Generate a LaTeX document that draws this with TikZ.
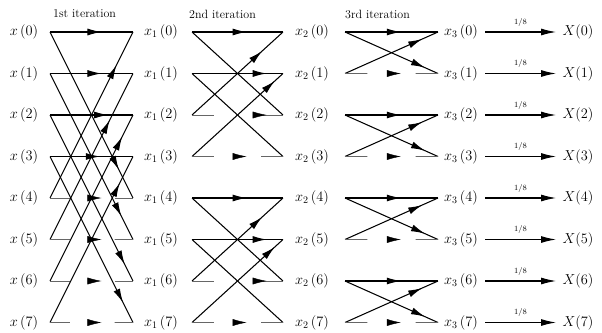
\documentclass[tikz,border=0pt]{standalone}
\usepackage{amsmath}
\usepackage{tikz}
\usetikzlibrary{calc,arrows.meta,decorations.markings}
\tikzset{
  wire/.style={line width=1.05pt},
  faint/.style={line width=0.8pt,black!60},
  tip/.style={postaction={decorate,decoration={markings,mark=at position #1 with {\arrow{Latex[length=14pt,width=7pt]}}}}},
  lbl/.style={font=\Large,inner sep=0pt},
  ttl/.style={font=\large,anchor=west,inner sep=0pt},
  frac/.style={font=\footnotesize,above=5pt,inner sep=0pt}
}

\begin{document}
\begin{tikzpicture}[x=1pt,y=-1pt]
\useasboundingbox (0,0) rectangle (602,332);
% end points and labels of every row
\foreach \k in {0,...,7}{
  \pgfmathsetmacro{\yy}{32+41.5*\k}
  \coordinate (a\k) at (50,\yy);  \coordinate (b\k) at (133,\yy);
  \coordinate (c\k) at (192,\yy); \coordinate (d\k) at (283,\yy);
  \coordinate (e\k) at (345,\yy); \coordinate (f\k) at (438,\yy);
  \coordinate (g\k) at (485,\yy); \coordinate (h\k) at (556,\yy);
  \node[lbl] (x\k) at (24,\yy) {$x\,(\k)$};
  \node[lbl] (xa\k) at (161,\yy) {$x_1\,(\k)$};
  \node[lbl] (xb\k) at (312,\yy) {$x_2\,(\k)$};
  \node[lbl] (xc\k) at (461,\yy) {$x_3\,(\k)$};
  \node[lbl] (X\k) at (578,\yy) {$X(\k)$};
  \draw[wire,-{Latex[length=15pt,width=7pt]}] (g\k) -- (h\k) node[frac,midway] (w\k) {1/8};
}
\node[ttl] (t1) at (53,14) {1st iteration};
\node[ttl] (t2) at (189,14) {2nd iteration};
\node[ttl] (t3) at (345,14) {3rd iteration};
% 1st iteration
\foreach \k/\p/\q/\r in {0/.8/.83/.62,1/.72/.86/.62,2/.87/.9/.7,3/.84/.88/.6}{
  \pgfmathtruncatemacro{\m}{\k+4}
  \draw[wire,tip=\r] (a\k) -- (b\k);
  \draw[wire,tip=\q] (a\k) -- (b\m);
  \draw[wire,tip=\p] (a\m) -- (b\k);
  \draw[faint] (a\m) -- ($(a\m)!.24!(b\m)$) ($(a\m)!.78!(b\m)$) -- (b\m);
  \path[tip=.62] (a\m) -- (b\m);
}
% 2nd iteration
\foreach \u/\l/\p/\q/\r in {0/2/.6/.82/.77,1/3/.82/.6/.91,4/6/.6/.82/.77,5/7/.82/.6/.91}{
  \draw[wire,tip=\p] (c\u) -- (d\u);
  \draw[wire] (c\u) -- (d\l);
  \draw[wire,tip=\r] (c\l) -- (d\u);
  \draw[faint] (c\l) -- ($(c\l)!.24!(d\l)$) ($(c\l)!.76!(d\l)$) -- (d\l);
  \path[tip=\q] (c\l) -- (d\l);
}
% 3rd iteration
\foreach \u/\l in {0/1,2/3,4/5,6/7}{
  \draw[wire,tip=.6] (e\u) -- (f\u);
  \draw[wire,tip=.86] (e\u) -- (f\l);
  \draw[wire,tip=.83] (e\l) -- (f\u);
  \draw[faint] (e\l) -- ($(e\l)!.24!(f\l)$) ($(e\l)!.76!(f\l)$) -- (f\l);
  \path[tip=.6] (e\l) -- (f\l);
}
\end{tikzpicture}
\end{document}
